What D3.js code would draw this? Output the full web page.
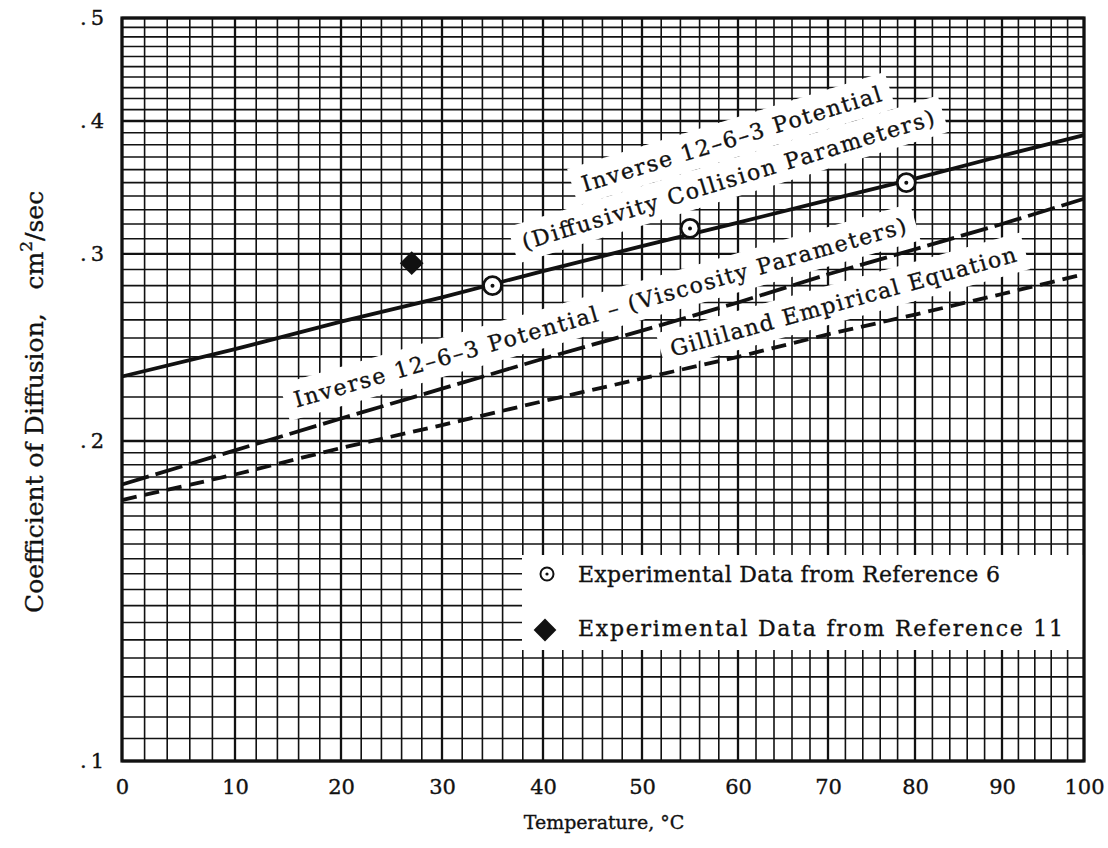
<!DOCTYPE html>
<html>
<head>
<meta charset="utf-8">
<script src="https://cdn.jsdelivr.net/npm/d3@7"></script>
<style>
  body { margin: 0; background: #fff; }
  text { font-family: "DejaVu Serif", serif; fill: #111; stroke: #111; stroke-width: 0.35px; }
</style>
</head>
<body>
<svg id="chart" width="1108" height="848"></svg>
<script>
// values
const tempTicks = [0, 10, 20, 30, 40, 50, 60, 70, 80, 90, 100];
const coefTicks = [0.1, 0.2, 0.3, 0.4, 0.5];
const coefTickLabels = [".1", ".2", ".3", ".4", ".5"];

const temps = [0, 10, 20, 30, 40, 50, 60, 70, 80, 90, 100];
const collisionParams = [0.230, 0.244, 0.259, 0.273, 0.289, 0.305, 0.321, 0.337, 0.353, 0.371, 0.388];
const viscosityParams = [0.182, 0.196, 0.210, 0.224, 0.239, 0.254, 0.270, 0.287, 0.303, 0.320, 0.338];
const gilliland = [0.176, 0.186, 0.197, 0.207, 0.218, 0.229, 0.240, 0.252, 0.263, 0.275, 0.287];

const ref6Temps = [35, 55, 79];
const ref6Values = [0.280, 0.317, 0.350];
const ref11Temps = [27];
const ref11Values = [0.294];

const svg = d3.select("#chart");

// the scan is stretched a bit on the left, so the x scale is piecewise
let x = d3.scaleLinear()
    .domain(tempTicks)
    .range([122, 235, 341, 442, 543, 642, 738, 828, 915, 1002, 1084]);
let y = d3.scaleLog().domain([0.1, 0.5]).range([761, 18]);

let plotLeft = x(0), plotRight = x(100), plotTop = y(0.5), plotBottom = y(0.1);

// graph paper
let xGrid = d3.range(0, 101, 2);
let yGrid = d3.range(100, 200, 5).concat(d3.range(200, 501, 10)).map(d => d / 1000);

let grid = svg.append("g").attr("class", "grid").attr("stroke", "#111");
grid.selectAll(".vx").data(xGrid).enter().append("line")
    .attr("x1", d => x(d)).attr("x2", d => x(d))
    .attr("y1", plotTop).attr("y2", plotBottom)
    .attr("stroke-width", d => d % 10 == 0 ? 2.3 : 1.6);
grid.selectAll(".hy").data(yGrid).enter().append("line")
    .attr("x1", plotLeft).attr("x2", plotRight)
    .attr("y1", d => y(d)).attr("y2", d => y(d))
    .attr("stroke-width", d => Math.round(d * 1000) % 100 == 0 ? 2.3 : 1.6);

// white patches pasted over the grid under the labels
let labels = [
    {text: "Inverse 12\u20136\u20133 Potential", t: 44.2, v: 0.343, angle: -17, len: 312},
    {text: "(Diffusivity Collision Parameters)", t: 38.2, v: 0.3025, angle: -17, len: 430},
    {text: "Inverse 12\u20136\u20133 Potential \u2013 (Viscosity Parameters)", t: 15.8, v: 0.215, angle: -16, len: 636},
    {text: "Gilliland Empirical Equation", t: 53.2, v: 0.240, angle: -15.5, len: 358}
];

let patches = svg.append("g");
labels.forEach(l => {
    patches.append("rect")
        .attr("transform", `translate(${x(l.t)},${y(l.v)}) rotate(${l.angle})`)
        .attr("x", -10).attr("y", -27)
        .attr("width", l.len + 20).attr("height", 38)
        .attr("fill", "#fff");
});

// legend box
svg.append("rect")
    .attr("x", 522).attr("y", 555)
    .attr("width", plotRight - 522).attr("height", 95)
    .attr("fill", "#fff");

// frame
svg.append("rect")
    .attr("x", plotLeft).attr("y", plotTop)
    .attr("width", plotRight - plotLeft).attr("height", plotBottom - plotTop)
    .attr("fill", "none").attr("stroke", "#111").attr("stroke-width", 3.2);

// curves
let line = d3.line().x(d => x(d[0])).y(d => y(d[1]));
let series = [
    {values: collisionParams, dash: null},
    {values: viscosityParams, dash: "28,7"},
    {values: gilliland, dash: "15,8"}
];
series.forEach(s => {
    svg.append("path")
        .datum(temps.map((t, i) => [t, s.values[i]]))
        .attr("d", line)
        .attr("fill", "none")
        .attr("stroke", "#111")
        .attr("stroke-width", 3.8)
        .attr("stroke-dasharray", s.dash);
});

// experimental points
let ref6 = ref6Temps.map((t, i) => [t, ref6Values[i]]);
let pts = svg.append("g");
pts.selectAll(".ring").data(ref6).enter().append("circle")
    .attr("cx", d => x(d[0])).attr("cy", d => y(d[1])).attr("r", 9)
    .attr("fill", "#fff").attr("stroke", "#111").attr("stroke-width", 2.8);
pts.selectAll(".dot").data(ref6).enter().append("circle")
    .attr("cx", d => x(d[0])).attr("cy", d => y(d[1])).attr("r", 2)
    .attr("fill", "#111");

let diamond = d3.symbol().type(d3.symbolDiamond2).size(360);
let ref11 = ref11Temps.map((t, i) => [t, ref11Values[i]]);
pts.selectAll(".diamond").data(ref11).enter().append("path")
    .attr("d", diamond)
    .attr("transform", d => `translate(${x(d[0])},${y(d[1])})`)
    .attr("fill", "#111");

// curve labels
labels.forEach(l => {
    svg.append("text")
        .attr("transform", `translate(${x(l.t)},${y(l.v)}) rotate(${l.angle})`)
        .attr("font-size", 22)
        .attr("textLength", l.len)
        .attr("lengthAdjust", "spacing")
        .text(l.text);
});

// legend entries
svg.append("circle").attr("cx", 547).attr("cy", 574).attr("r", 6.5)
    .attr("fill", "#fff").attr("stroke", "#111").attr("stroke-width", 2);
svg.append("circle").attr("cx", 547).attr("cy", 574).attr("r", 1.6).attr("fill", "#111");
svg.append("path").attr("d", d3.symbol().type(d3.symbolDiamond2).size(330))
    .attr("transform", "translate(545,630)").attr("fill", "#111");
svg.append("text").attr("x", 578).attr("y", 582).attr("font-size", 22)
    .attr("textLength", 422).text("Experimental Data from Reference 6");
svg.append("text").attr("x", 578).attr("y", 636).attr("font-size", 22)
    .attr("textLength", 485).text("Experimental Data from Reference 11");

// axes (labels only, the paper is the grid)
let xAxis = svg.append("g")
    .attr("transform", `translate(0,${plotBottom})`)
    .call(d3.axisBottom(x).tickValues(tempTicks).tickSize(0).tickPadding(18));
xAxis.select(".domain").remove();
xAxis.selectAll("text").attr("font-size", 21).attr("fill", "#111");

let yAxis = svg.append("g")
    .attr("transform", `translate(${plotLeft},0)`)
    .call(d3.axisLeft(y).tickValues(coefTicks).tickFormat((d, i) => coefTickLabels[i]).tickSize(0).tickPadding(14));
yAxis.select(".domain").remove();
yAxis.selectAll("text").attr("font-size", 21).attr("fill", "#111").attr("letter-spacing", 4);

// axis titles
svg.append("text")
    .attr("x", 604).attr("y", 829)
    .attr("text-anchor", "middle")
    .attr("font-size", 19)
    .text("Temperature, \u00b0C");

let ytitle = svg.append("text")
    .attr("transform", "translate(43,613) rotate(-90)")
    .attr("font-size", 25)
    .style("white-space", "pre");
ytitle.append("tspan").text("Coefficient of Diffusion,   cm");
ytitle.append("tspan").attr("dy", -11).attr("font-size", 17).text("2");
ytitle.append("tspan").attr("dy", 11).text("/sec");
</script>
</body>
</html>
